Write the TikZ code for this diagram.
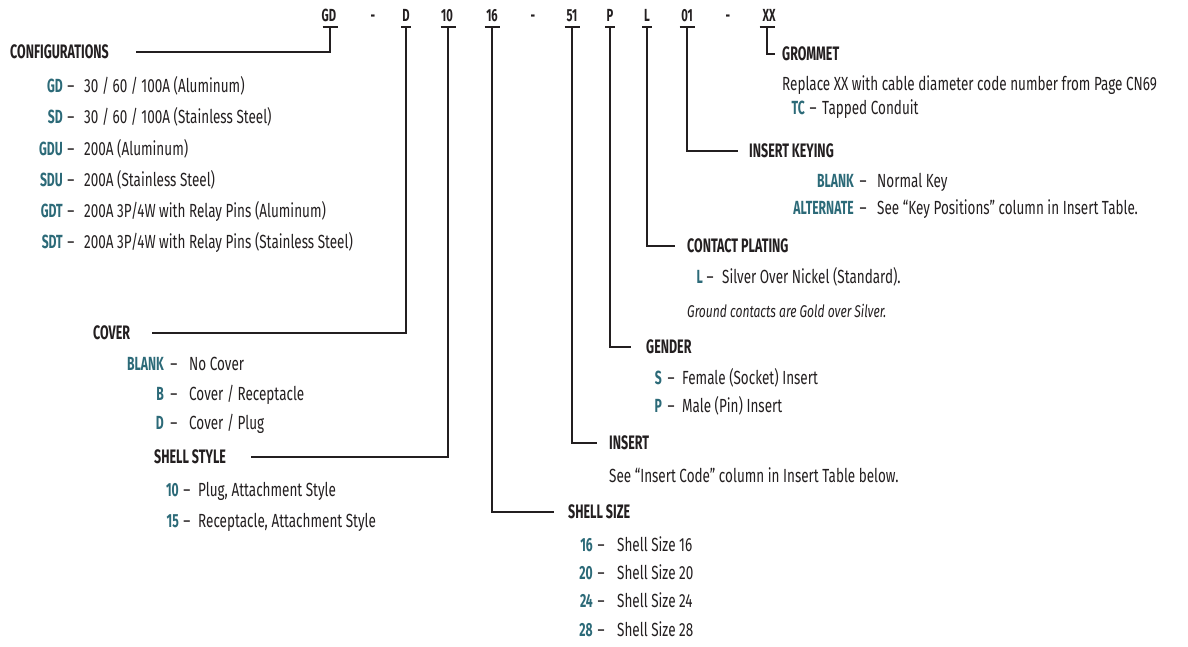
\documentclass[tikz,border=0pt]{standalone}
\usepackage{fontspec}
\setmainfont{Fira Sans}[FakeStretch=0.71]
\newfontfamily\cond{Fira Sans}[FakeStretch=0.64]
\definecolor{ink}{HTML}{231F20}
\definecolor{codeteal}{HTML}{2C6A78}
\newcommand{\crow}[7]{%
  \node[cd] (#1c) at (#3,#2+6.5) {#6};
  \node[ds] (#1d) at (#4,#2+6.5) {–};
  \node[tx] (#1t) at (#5,#2+6.5) {#7};}
\begin{document}
\begin{tikzpicture}[x=1pt,y=-1pt,
  hd/.style={font=\cond\bfseries\fontsize{17.5}{20}\selectfont, text=ink, inner sep=0, anchor=base},
  lbl/.style={font=\cond\bfseries\fontsize{19.5}{22}\selectfont, text=ink, anchor=west, inner sep=0},
  cd/.style={font=\cond\bfseries\fontsize{19}{22}\selectfont, text=codeteal, anchor=base east, inner sep=0},
  tx/.style={font=\fontsize{19}{22}\selectfont, text=ink, anchor=base west, inner sep=0},
  note/.style={font=\itshape\fontsize{17}{20}\selectfont, text=ink, anchor=base west, inner sep=0},
  ds/.style={font=\fontsize{19}{22}\selectfont, text=ink, anchor=base, inner sep=0},
  conn/.style={draw=ink, line width=2pt},
  tbar/.style={draw=ink, line width=1.6pt}]
\useasboundingbox (0,0) rectangle (1188,646);

% header code
\node[hd] (hGD) at (329,21.5) {GD};
\node[hd] (hm1) at (373,21.5) {-};
\node[hd] (hD)  at (406,21.5) {D};
\node[hd] (h10) at (447,21.5) {10};
\node[hd] (h16) at (492,21.5) {16};
\node[hd] (hm2) at (533,21.5) {-};
\node[hd] (h51) at (572,21.5) {51};
\node[hd] (hP)  at (610,21.5) {P};
\node[hd] (hL)  at (647,21.5) {L};
\node[hd] (h01) at (687,21.5) {01};
\node[hd] (hm3) at (728,21.5) {-};
\node[hd] (hXX) at (769,21.5) {XX};

% bar coordinates
\coordinate (bGD) at (330,27);
\coordinate (bD)  at (406,27);
\coordinate (b10) at (448,27);
\coordinate (b16) at (492,27);
\coordinate (b51) at (572,27);
\coordinate (bP)  at (610,27);
\coordinate (bL)  at (647,27);
\coordinate (b01) at (687,27);
\coordinate (bXX) at (767,27);
\foreach \b/\w in {bGD/7.5,b10/7.5,b16/7.5,b51/7.5,b01/7.5,bXX/7.5,bD/5,bP/5,bL/5}{
  \draw[tbar] ([xshift=-\w pt]\b) -- ([xshift=\w pt]\b);
}

% section labels
\node[lbl] (cfg)  at (10,52)  {CONFIGURATIONS};
\node[lbl] (cov)  at (93,333) {COVER};
\node[lbl] (sst)  at (154,457) {SHELL STYLE};
\node[lbl] (ssz)  at (568,512) {SHELL SIZE};
\node[lbl] (ins)  at (609,443) {INSERT};
\node[lbl] (gen)  at (646,347) {GENDER};
\node[lbl] (cpl)  at (687,246) {CONTACT PLATING};
\node[lbl] (iky)  at (749,151) {INSERT KEYING};
\node[lbl] (gro)  at (782,54)  {GROMMET};

% connectors
\draw[conn] (bGD) |- ([xshift=27pt]cfg.east);
\draw[conn] (bD)  |- ([xshift=22pt]cov.east);
\draw[conn] (b10) |- ([xshift=25pt]sst.east);
\draw[conn] (b16) |- ([xshift=-14pt]ssz.west);
\draw[conn] (b51) |- ([xshift=-12pt]ins.west);
\draw[conn] (bP)  |- ([xshift=-15pt]gen.west);
\draw[conn] (bL)  |- ([xshift=-12pt]cpl.west);
\draw[conn] (b01) |- ([xshift=-11pt]iky.west);
\draw[conn] (bXX) |- ([xshift=-7pt]gro.west);

% configurations
\crow{c1}{86}{63}{71}{84}{GD}{30 / 60 / 100A (Aluminum)}
\crow{c2}{117}{63}{71}{84}{SD}{30 / 60 / 100A (Stainless Steel)}
\crow{c3}{149}{63}{71}{84}{GDU}{200A (Aluminum)}
\crow{c4}{180}{63}{71}{84}{SDU}{200A (Stainless Steel)}
\crow{c5}{211}{63}{71}{84}{GDT}{200A 3P/4W with Relay Pins (Aluminum)}
\crow{c6}{242}{63}{71}{84}{SDT}{200A 3P/4W with Relay Pins (Stainless Steel)}

% cover
\crow{v1}{364}{164}{174}{189}{BLANK}{No Cover}
\crow{v2}{394}{164}{174}{189}{B}{Cover / Receptacle}
\crow{v3}{423}{164}{174}{189}{D}{Cover / Plug}

% shell style
\crow{s1}{490}{179}{187}{198}{10}{Plug, Attachment Style}
\crow{s2}{521}{179}{187}{198}{15}{Receptacle, Attachment Style}

% shell size
\crow{z1}{545}{593}{601}{617}{16}{Shell Size 16}
\crow{z2}{573}{593}{601}{617}{20}{Shell Size 20}
\crow{z3}{601}{593}{601}{617}{24}{Shell Size 24}
\crow{z4}{630}{593}{601}{617}{28}{Shell Size 28}

% insert
\node[tx] (insd) at (609,482.5) {See “Insert Code” column in Insert Table below.};

% gender
\crow{g1}{378}{662}{671}{682}{S}{Female (Socket) Insert}
\crow{g2}{406}{662}{671}{682}{P}{Male (Pin) Insert}

% contact plating
\crow{p1}{277}{703}{710}{722}{L}{Silver Over Nickel (Standard).}
\node[note] (pnote) at (687,317) {Ground contacts are Gold over Silver.};

% insert keying
\crow{k1}{181}{854}{863}{877}{BLANK}{Normal Key}
\crow{k2}{208}{854}{863}{877}{ALTERNATE}{See “Key Positions” column in Insert Table.}

% grommet
\node[tx] (grod) at (782,90) {Replace XX with cable diameter code number from Page CN69};
\crow{t1}{108}{805}{813}{822}{TC}{Tapped Conduit}
\end{tikzpicture}
\end{document}
